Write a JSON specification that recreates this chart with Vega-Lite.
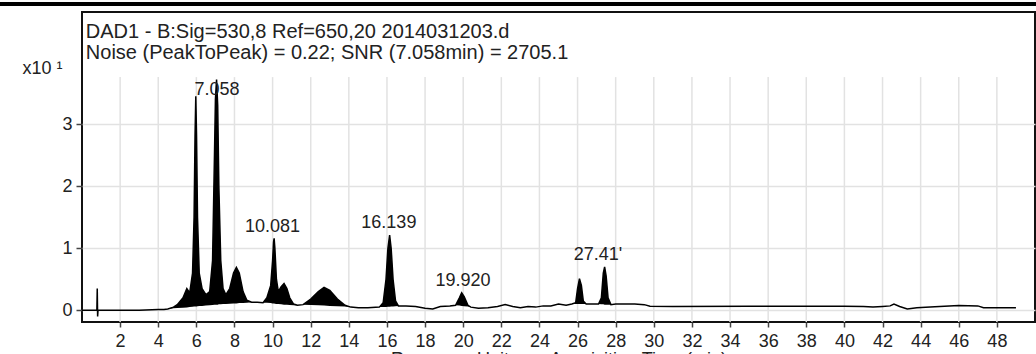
{
  "$schema": "https://vega.github.io/schema/vega-lite/v6.json",
  "width": 953,
  "height": 310,
  "autosize": {"type": "none"},
  "padding": {"left": 82, "top": 12, "right": 1, "bottom": 32},
  "background": "white",
  "config": {
    "font": "Liberation Sans",
    "view": {"stroke": "#111", "strokeWidth": 2}
  },
  "datasets": {
    "trace": [
      {"t": 0, "v": 0, "b": 0}, {"t": 0.78, "v": 0, "b": 0}, {"t": 0.8, "v": 0.35, "b": 0.35}, {"t": 0.82, "v": -0.1, "b": -0.1}, {"t": 0.84, "v": 0, "b": 0},
      {"t": 2, "v": 0, "b": 0}, {"t": 3, "v": 0, "b": 0}, {"t": 4, "v": 0.01, "b": 0.01}, {"t": 4.3, "v": 0.01, "b": 0.01},
      {"t": 4.5, "v": 0.02, "b": 0.02}, {"t": 4.8, "v": 0.05, "b": 0.03}, {"t": 5.0, "v": 0.09, "b": 0.035}, {"t": 5.3, "v": 0.2, "b": 0.04},
      {"t": 5.5, "v": 0.35, "b": 0.045}, {"t": 5.65, "v": 0.28, "b": 0.05}, {"t": 5.8, "v": 0.6, "b": 0.055}, {"t": 5.88, "v": 1.5, "b": 0.06},
      {"t": 5.93, "v": 2.8, "b": 0.06}, {"t": 5.97, "v": 3.45, "b": 0.06}, {"t": 6.01, "v": 2.8, "b": 0.06}, {"t": 6.06, "v": 1.5, "b": 0.065},
      {"t": 6.15, "v": 0.6, "b": 0.07}, {"t": 6.3, "v": 0.35, "b": 0.07}, {"t": 6.5, "v": 0.25, "b": 0.075}, {"t": 6.7, "v": 0.3, "b": 0.08},
      {"t": 6.85, "v": 0.8, "b": 0.085}, {"t": 6.95, "v": 2.5, "b": 0.09}, {"t": 7.0, "v": 3.4, "b": 0.09}, {"t": 7.06, "v": 3.72, "b": 0.09},
      {"t": 7.12, "v": 3.3, "b": 0.09}, {"t": 7.18, "v": 2.0, "b": 0.095}, {"t": 7.28, "v": 0.8, "b": 0.095}, {"t": 7.4, "v": 0.35, "b": 0.1},
      {"t": 7.55, "v": 0.25, "b": 0.1}, {"t": 7.75, "v": 0.35, "b": 0.105}, {"t": 7.95, "v": 0.6, "b": 0.11}, {"t": 8.1, "v": 0.69, "b": 0.11},
      {"t": 8.25, "v": 0.6, "b": 0.115}, {"t": 8.45, "v": 0.3, "b": 0.115}, {"t": 8.65, "v": 0.16, "b": 0.12}, {"t": 8.9, "v": 0.13, "b": 0.13},
      {"t": 9.2, "v": 0.13, "b": 0.13}, {"t": 9.5, "v": 0.12, "b": 0.12}, {"t": 9.7, "v": 0.2, "b": 0.12}, {"t": 9.9, "v": 0.4, "b": 0.115},
      {"t": 10.0, "v": 0.8, "b": 0.11}, {"t": 10.05, "v": 1.1, "b": 0.11}, {"t": 10.08, "v": 1.16, "b": 0.11}, {"t": 10.12, "v": 1.0, "b": 0.105},
      {"t": 10.2, "v": 0.5, "b": 0.1}, {"t": 10.3, "v": 0.3, "b": 0.1}, {"t": 10.45, "v": 0.38, "b": 0.095}, {"t": 10.6, "v": 0.43, "b": 0.09},
      {"t": 10.75, "v": 0.35, "b": 0.09}, {"t": 10.9, "v": 0.2, "b": 0.085}, {"t": 11.1, "v": 0.1, "b": 0.08}, {"t": 11.3, "v": 0.08, "b": 0.08},
      {"t": 11.6, "v": 0.09, "b": 0.09}, {"t": 12.0, "v": 0.18, "b": 0.085}, {"t": 12.4, "v": 0.3, "b": 0.08}, {"t": 12.7, "v": 0.37, "b": 0.075},
      {"t": 13.0, "v": 0.32, "b": 0.07}, {"t": 13.4, "v": 0.18, "b": 0.065}, {"t": 13.8, "v": 0.08, "b": 0.06}, {"t": 14.1, "v": 0.05, "b": 0.05},
      {"t": 14.5, "v": 0.04, "b": 0.04}, {"t": 15.0, "v": 0.04, "b": 0.04}, {"t": 15.6, "v": 0.05, "b": 0.05}, {"t": 15.8, "v": 0.12, "b": 0.05},
      {"t": 15.95, "v": 0.5, "b": 0.05}, {"t": 16.05, "v": 1.0, "b": 0.055}, {"t": 16.14, "v": 1.21, "b": 0.055}, {"t": 16.22, "v": 1.0, "b": 0.06},
      {"t": 16.32, "v": 0.5, "b": 0.06}, {"t": 16.45, "v": 0.15, "b": 0.065}, {"t": 16.6, "v": 0.07, "b": 0.07}, {"t": 17.0, "v": 0.07, "b": 0.07},
      {"t": 17.5, "v": 0.06, "b": 0.06}, {"t": 18.0, "v": 0.03, "b": 0.03}, {"t": 18.4, "v": 0.02, "b": 0.02}, {"t": 18.8, "v": 0.06, "b": 0.06},
      {"t": 19.3, "v": 0.07, "b": 0.07}, {"t": 19.6, "v": 0.08, "b": 0.08}, {"t": 19.8, "v": 0.2, "b": 0.075}, {"t": 19.92, "v": 0.28, "b": 0.07},
      {"t": 20.05, "v": 0.22, "b": 0.065}, {"t": 20.25, "v": 0.08, "b": 0.06}, {"t": 20.4, "v": 0.05, "b": 0.05}, {"t": 20.8, "v": 0.03, "b": 0.03},
      {"t": 21.3, "v": 0.04, "b": 0.04}, {"t": 21.8, "v": 0.06, "b": 0.06}, {"t": 22.2, "v": 0.09, "b": 0.09}, {"t": 22.6, "v": 0.06, "b": 0.06},
      {"t": 23.0, "v": 0.04, "b": 0.04}, {"t": 23.4, "v": 0.06, "b": 0.06}, {"t": 23.8, "v": 0.05, "b": 0.05}, {"t": 24.2, "v": 0.07, "b": 0.07},
      {"t": 24.6, "v": 0.07, "b": 0.07}, {"t": 25.0, "v": 0.1, "b": 0.1}, {"t": 25.4, "v": 0.08, "b": 0.08}, {"t": 25.7, "v": 0.1, "b": 0.1},
      {"t": 25.9, "v": 0.12, "b": 0.1}, {"t": 26.0, "v": 0.35, "b": 0.1}, {"t": 26.1, "v": 0.51, "b": 0.1}, {"t": 26.2, "v": 0.4, "b": 0.1},
      {"t": 26.3, "v": 0.15, "b": 0.1}, {"t": 26.45, "v": 0.1, "b": 0.1}, {"t": 26.8, "v": 0.1, "b": 0.1}, {"t": 27.1, "v": 0.1, "b": 0.1},
      {"t": 27.25, "v": 0.2, "b": 0.095}, {"t": 27.35, "v": 0.6, "b": 0.095}, {"t": 27.42, "v": 0.7, "b": 0.09}, {"t": 27.5, "v": 0.55, "b": 0.09},
      {"t": 27.6, "v": 0.2, "b": 0.09}, {"t": 27.75, "v": 0.09, "b": 0.09}, {"t": 28.0, "v": 0.1, "b": 0.1}, {"t": 29.0, "v": 0.1, "b": 0.1},
      {"t": 29.5, "v": 0.09, "b": 0.09}, {"t": 29.8, "v": 0.065, "b": 0.065}, {"t": 31, "v": 0.06, "b": 0.06}, {"t": 35, "v": 0.065, "b": 0.065},
      {"t": 40, "v": 0.065, "b": 0.065}, {"t": 41, "v": 0.06, "b": 0.06}, {"t": 41.5, "v": 0.05, "b": 0.05}, {"t": 42, "v": 0.06, "b": 0.06},
      {"t": 42.4, "v": 0.07, "b": 0.07}, {"t": 42.6, "v": 0.1, "b": 0.1}, {"t": 42.9, "v": 0.06, "b": 0.06}, {"t": 43.3, "v": 0.02, "b": 0.02},
      {"t": 43.8, "v": 0.04, "b": 0.04}, {"t": 44.5, "v": 0.05, "b": 0.05}, {"t": 45.0, "v": 0.06, "b": 0.06}, {"t": 45.5, "v": 0.07, "b": 0.07},
      {"t": 46.0, "v": 0.075, "b": 0.075}, {"t": 47.0, "v": 0.07, "b": 0.07}, {"t": 47.3, "v": 0.04, "b": 0.04}, {"t": 48.0, "v": 0.04, "b": 0.04},
      {"t": 49.0, "v": 0.04, "b": 0.04}
    ],
    "labels": [
      {"t": 7.08, "v": 3.47, "label": "7.058"},
      {"t": 9.99, "v": 1.26, "label": "10.081"},
      {"t": 16.1, "v": 1.32, "label": "16.139"},
      {"t": 19.99, "v": 0.39, "label": "19.920"},
      {"t": 27.07, "v": 0.81, "label": "27.41'"}
    ],
    "vgrid": [
      {"t": 2}, {"t": 4}, {"t": 6}, {"t": 8}, {"t": 10}, {"t": 12}, {"t": 14}, {"t": 16}, {"t": 18}, {"t": 20}, {"t": 22}, {"t": 24},
      {"t": 26}, {"t": 28}, {"t": 30}, {"t": 32}, {"t": 34}, {"t": 36}, {"t": 38}, {"t": 40}, {"t": 42}, {"t": 44}, {"t": 46}, {"t": 48}
    ],
    "header": [
      {"line1": "DAD1 - B:Sig=530,8 Ref=650,20 2014031203.d", "line2": "Noise (PeakToPeak) = 0.22; SNR (7.058min) = 2705.1"}
    ]
  },
  "layer": [
    {
      "data": {"name": "vgrid"},
      "mark": {"type": "rule", "color": "#e2e2e2", "strokeWidth": 1.5},
      "encoding": {
        "x": {
          "field": "t",
          "type": "quantitative",
          "title": "Response Units vs. Acquisition Time (min)",
          "scale": {"domain": [0, 50], "nice": false, "zero": false},
          "axis": {
            "values": [2, 4, 6, 8, 10, 12, 14, 16, 18, 20, 22, 24, 26, 28, 30, 32, 34, 36, 38, 40, 42, 44, 46, 48],
            "format": "d",
            "grid": false, "domain": false, "tickSize": 5, "tickColor": "#444", "tickWidth": 1.5,
            "labelPadding": 5, "labelFontSize": 18, "labelColor": "#222", "labelFlush": false,
            "titleFontSize": 18, "titleFontWeight": "normal", "titleColor": "#222", "titlePadding": 0
          }
        },
        "y": {
          "datum": -0.19,
          "type": "quantitative",
          "title": "x10 ¹",
          "scale": {"domain": [-0.19, 4.81], "nice": false, "zero": false},
          "axis": {
            "values": [0, 1, 2, 3],
            "format": "d",
            "grid": true, "gridColor": "#e2e2e2", "gridWidth": 1.5,
            "domain": false, "tickSize": 6, "tickColor": "#444", "tickWidth": 1.5,
            "labelPadding": 4, "labelFontSize": 18, "labelColor": "#222",
            "titleAngle": 0, "titleX": -60, "titleY": 61, "titleAlign": "left",
            "titleBaseline": "alphabetic", "titleFontSize": 18, "titleFontWeight": "normal", "titleColor": "#222"
          }
        },
        "y2": {"datum": 3.76}
      }
    },
    {
      "data": {"name": "trace"},
      "mark": {"type": "area", "color": "#000", "opacity": 1},
      "encoding": {
        "x": {"field": "t", "type": "quantitative", "title": "Response Units vs. Acquisition Time (min)"},
        "y": {"field": "v", "type": "quantitative", "title": "x10 ¹"},
        "y2": {"field": "b"}
      }
    },
    {
      "data": {"name": "trace"},
      "mark": {"type": "line", "color": "#000", "strokeWidth": 1.5},
      "encoding": {
        "x": {"field": "t", "type": "quantitative", "title": "Response Units vs. Acquisition Time (min)"},
        "y": {"field": "v", "type": "quantitative", "title": "x10 ¹"}
      }
    },
    {
      "data": {"name": "labels"},
      "mark": {"type": "text", "fontSize": 18, "baseline": "alphabetic", "align": "center", "color": "#222"},
      "encoding": {
        "x": {"field": "t", "type": "quantitative", "title": "Response Units vs. Acquisition Time (min)"},
        "y": {"field": "v", "type": "quantitative", "title": "x10 ¹"},
        "text": {"field": "label"}
      }
    },
    {
      "data": {"name": "header"},
      "mark": {"type": "text", "align": "left", "baseline": "alphabetic", "fontSize": 20, "color": "#222"},
      "encoding": {
        "x": {"datum": 0.2, "type": "quantitative", "title": "Response Units vs. Acquisition Time (min)"},
        "y": {"datum": 4.385, "type": "quantitative", "title": "x10 ¹"},
        "text": {"field": "line1"}
      }
    },
    {
      "data": {"name": "header"},
      "mark": {"type": "text", "align": "left", "baseline": "alphabetic", "fontSize": 20, "color": "#222"},
      "encoding": {
        "x": {"datum": 0.2, "type": "quantitative", "title": "Response Units vs. Acquisition Time (min)"},
        "y": {"datum": 4.05, "type": "quantitative", "title": "x10 ¹"},
        "text": {"field": "line2"}
      }
    },
    {
      "data": {"name": "header"},
      "mark": {"type": "rule", "color": "#000", "strokeWidth": 4, "clip": false},
      "encoding": {
        "x": {"datum": -4.4, "type": "quantitative", "title": "Response Units vs. Acquisition Time (min)"},
        "x2": {"datum": 50.1},
        "y": {"datum": 4.94, "type": "quantitative", "title": "x10 ¹"}
      }
    }
  ]
}
